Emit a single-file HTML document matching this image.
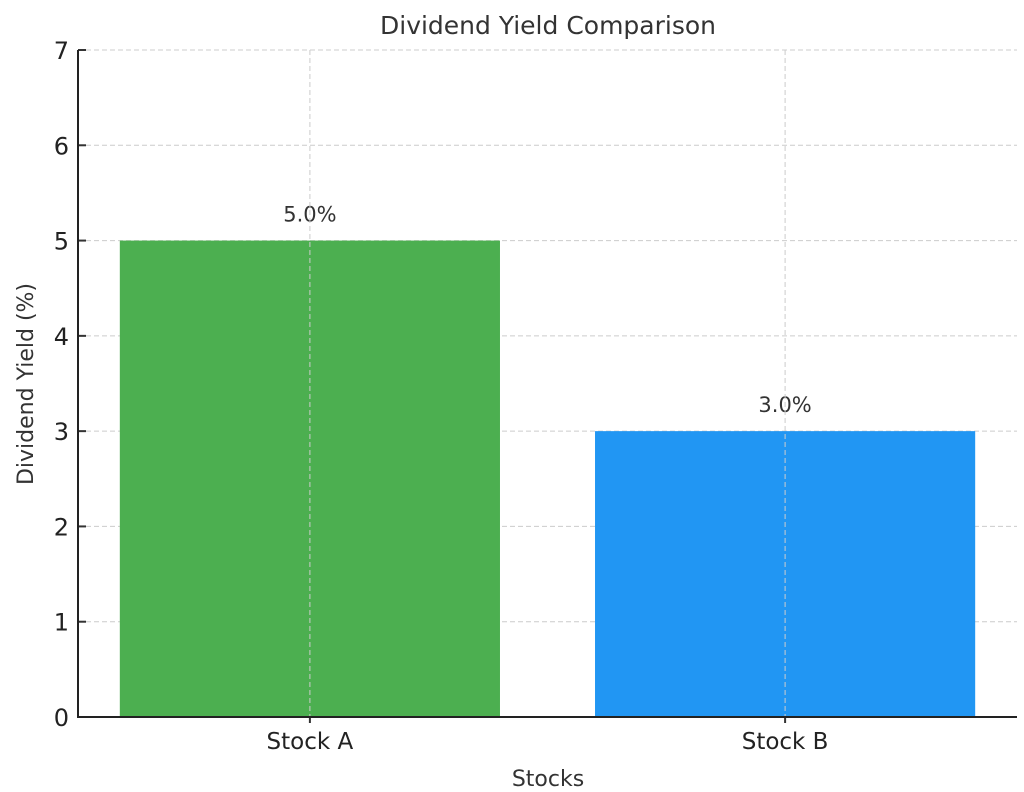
<!DOCTYPE html>
<html><head><meta charset="utf-8"><style>
body{margin:0;background:#fff;}
svg text{font-family:"DejaVu Sans","Liberation Sans",sans-serif;}
</style></head><body>
<svg id="chart" width="1024" height="787" xmlns="http://www.w3.org/2000/svg">
<rect width="1024" height="787" fill="#fff"/>
<text x="548" y="34" font-size="25" fill="#333" text-anchor="middle">Dividend Yield Comparison</text>
<g id="grid"></g><g id="bars"></g><g id="axes"></g>
<text x="548" y="786" font-size="22" fill="#333" text-anchor="middle">Stocks</text>
<text transform="translate(33,384) rotate(-90)" font-size="22" fill="#333" text-anchor="middle">Dividend Yield (%)</text>
</svg>
<script>
const categories = ["Stock A", "Stock B"];
const values = [5.0, 3.0];
const colors = ["#4caf50", "#2196f3"];
const yTicks = [0,1,2,3,4,5,6,7];
const NS="http://www.w3.org/2000/svg";
const L=78,R=1017,T=50,B=717,yMax=7,xMin=-0.488,xMax=1.488;
const y=v=>B-(v/yMax)*(B-T);
const x=i=>L+(i-xMin)/(xMax-xMin)*(R-L);
const bw=0.8*(R-L)/(xMax-xMin);
function mk(tag,attrs,parent,txt){const e=document.createElementNS(NS,tag);for(const k in attrs)e.setAttribute(k,attrs[k]);if(txt!==undefined)e.textContent=txt;document.getElementById(parent).appendChild(e);return e;}
yTicks.forEach(t=>{
 const g=mk('line',{x1:L,x2:R,y1:y(t),y2:y(t),stroke:'#ccc','stroke-dasharray':'5,3','stroke-width':1},'grid');
 
 
 const tk=mk('line',{x1:L,x2:L+8,y1:y(t),y2:y(t),stroke:'#333','stroke-width':2},'axes');
 
 
 const lb=mk('text',{x:L-9,y:y(t)+9,'font-size':24,fill:'#222','text-anchor':'end'},'axes',String(t));
 
 
});
categories.forEach((c,i)=>{
 const r=mk('rect',{x:x(i)-bw/2,y:y(values[i]),width:bw,height:B-y(values[i]),fill:colors[i]},'bars');
 
 
 const v=mk('text',{x:x(i),y:y(values[i])-19,'font-size':21,fill:'#333','text-anchor':'middle'},'bars',values[i].toFixed(1)+'%');
 
 
 const g=mk('line',{x1:x(i),x2:x(i),y1:T,y2:B,stroke:'#ccc','stroke-dasharray':'5,3','stroke-width':1},'bars');
 
 
 const tk=mk('line',{x1:x(i),x2:x(i),y1:B,y2:B+6,stroke:'#333','stroke-width':2},'axes');
 
 
 const lb=mk('text',{x:x(i),y:B+32,'font-size':23,fill:'#222','text-anchor':'middle'},'axes',c);
 
 
});
const ya=mk('line',{x1:L,x2:L,y1:T,y2:B+1,stroke:'#222','stroke-width':2},'axes');


const xa=mk('line',{x1:L-1,x2:R,y1:B,y2:B,stroke:'#222','stroke-width':2},'axes');


</script>
</body></html>
